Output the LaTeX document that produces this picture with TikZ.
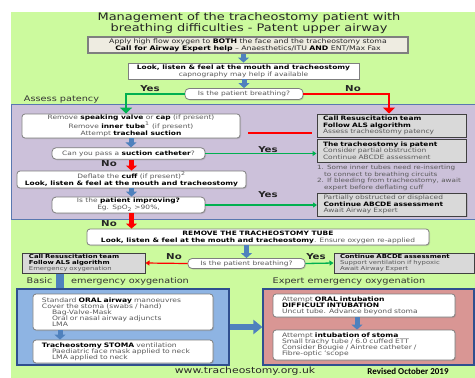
\documentclass[tikz,border=0pt]{standalone}
\usepackage{fontspec}
\setmainfont{DejaVu Sans}[FakeStretch=1.25]
\newfontfamily\revfont{Carlito}
\usetikzlibrary{shapes,arrows.meta,positioning,shadows}

\definecolor{bggreen}{HTML}{CCFA9E}
\definecolor{patencypurple}{HTML}{CCC1DA}
\definecolor{patencyedge}{HTML}{5A78B0}
\definecolor{boxgray}{HTML}{D9D9D9}
\definecolor{boxbeige}{HTML}{EEECE1}
\definecolor{edgegray}{HTML}{7F7F7F}
\definecolor{txtgray}{HTML}{595959}
\definecolor{arrowblue}{HTML}{4F81BD}
\definecolor{basicblue}{HTML}{8EB4E3}
\definecolor{expertred}{HTML}{D99694}
\definecolor{regionedge}{HTML}{2F4F8F}
\definecolor{okgreen}{HTML}{00B050}

\newcommand{\kw}[1]{{\bfseries\color{black}#1}}

\tikzset{
  whitebox/.style={draw=edgegray, fill=white, rounded corners=3bp, line width=0.8bp, align=center, text=txtgray, inner sep=1bp, font=\fontsize{6}{7}\selectfont, drop shadow={shadow xshift=1bp, shadow yshift=-1bp, opacity=0.3}},
  question/.style={whitebox, rounded corners=4bp},
  graybox/.style={draw=black!75, fill=boxgray, line width=1bp, align=left, text=txtgray, inner xsep=6bp, inner ysep=1bp, font=\fontsize{6}{6.7}\selectfont, drop shadow={shadow xshift=1bp, shadow yshift=-1bp, opacity=0.3}},
  listbox/.style={whitebox, align=left, inner xsep=9bp, font=\fontsize{6.1}{6}\selectfont},
  yesno/.style={text=black!85, font=\fontsize{8.2}{9}\selectfont\bfseries, inner sep=0pt},
  zonelabel/.style={text=black!80, font=\fontsize{7.8}{9}\selectfont, inner sep=0pt},
  bluearrow/.style={draw=arrowblue, line width=5bp, -{Triangle[length=5bp,width=11bp]}},
  redblock/.style={draw=red, line width=5bp, -{Triangle[length=5bp,width=11bp]}},
  bigturn/.style={line width=2bp, -{Triangle[length=6bp,width=12bp]}},
  greenline/.style={draw=okgreen, line width=1.3bp, -{Triangle[length=4bp,width=5bp]}},
}

\begin{document}
\begin{tikzpicture}[x=1bp,y=-1bp]
\useasboundingbox (0,0) rectangle (475,377);
% Backgrounds
\fill[bggreen] (11,12) rectangle (476,378);
\draw[fill=patencypurple, draw=patencyedge, line width=1bp] (11,104) rectangle (477,219);

% Title
\node[font=\fontsize{10.4}{11}\selectfont, text=black!85, align=center, inner sep=0pt] (title) at (249,23.5) {Management of the tracheostomy patient with\\breathing difficulties - Patent upper airway};

% Top boxes
\node[draw=edgegray, fill=boxbeige, line width=1.2bp, minimum width=320bp, minimum height=16bp, align=center, text=black!85, inner sep=1bp, font=\fontsize{6.25}{7.2}\selectfont, drop shadow={shadow xshift=1bp, shadow yshift=-1bp, opacity=0.3}] (oxygen) at (248,45) {Apply high flow oxygen to \kw{BOTH} the face and the tracheostomy stoma\\\kw{Call for Airway Expert help} -- Anaesthetics/ITU \kw{AND} ENT/Max Fax};
\node[whitebox, rounded corners=0pt, minimum width=231bp, minimum height=16bp] (look) at (243.5,71) {\kw{Look, listen \& feel at the mouth and tracheostomy}\\capnography may help if available};
\node[question, minimum width=118bp, minimum height=11bp] (breath1) at (244,94) {Is the patient breathing?};
\node[yesno] (yes1) at (150,89) {Yes};
\node[yesno] (no1) at (353,89) {No};
\node[zonelabel] (patency) at (61.5,99) {Assess patency};

% Assess patency
\node[whitebox, minimum width=218bp, minimum height=24bp] (remove) at (131,126) {Remove \kw{speaking valve} or \kw{cap} (if present)\\Remove \kw{inner tube}\textsuperscript{1} (if present)\\Attempt \kw{tracheal suction}};
\node[question, minimum width=153bp, minimum height=11.5bp] (suction) at (128.5,153.5) {Can you pass a \kw{suction catheter}?};
\node[whitebox, minimum width=229bp, minimum height=17bp] (cuff) at (131.5,179.5) {Deflate the \kw{cuff} (if present)\textsuperscript{2}\\\kw{Look, listen \& feel at the mouth and tracheostomy}};
\node[question, minimum width=153bp, minimum height=16bp] (improving) at (128.5,205) {Is the \kw{patient improving?}\\Eg. SpO\textsubscript{2} >90\%,};
\node[yesno] (no2) at (109,164) {No};
\node[yesno] (no3) at (109,224) {No};
\node[yesno] (yes2) at (268,150) {Yes};
\node[yesno] (yes3) at (268,195) {Yes};

\node[graybox, text width=137bp, minimum height=23bp] (resus1) at (391.5,125.5) {\kw{Call Resuscitation team}\\\kw{Follow ALS algorithm}\\Assess tracheostomy patency};
\node[graybox, text width=137bp, minimum height=23bp] (patent) at (391.5,150.5) {\kw{The tracheostomy is patent}\\Consider partial obstruction\\Continue ABCDE assessment};
\node[align=left, text=txtgray, font=\fontsize{5.8}{5.5}\selectfont, inner sep=0pt] (notes) at (389,178) {1. Some inner tubes need re-inserting\\\hspace*{7bp}to connect to breathing circuits\\2. If bleeding from tracheostomy, await\\\hspace*{7bp}expert before deflating cuff};
\node[graybox, text width=137bp, minimum height=23bp] (partial) at (392,204.5) {Partially obstructed or displaced\\\kw{Continue ABCDE assessment}\\Await Airway Expert};

% Remove the tube
\node[whitebox, minimum width=342bp, minimum height=16bp] (removetube) at (258,237) {\kw{REMOVE THE TRACHEOSTOMY TUBE}\\\kw{Look, listen \& feel at the mouth and tracheostomy}. Ensure oxygen re-applied};
\node[question, minimum width=117bp, minimum height=10bp] (breath2) at (246.5,263.5) {Is the patient breathing?};
\node[graybox, font=\fontsize{5.5}{6.3}\selectfont, text width=110bp, minimum height=20bp] (resus2) at (84,263) {\kw{Call Resuscitation team}\\\kw{Follow ALS algorithm}\\Emergency oxygenation};
\node[graybox, font=\fontsize{5.5}{6.3}\selectfont, text width=128bp, minimum height=20bp] (continue) at (404,263) {\kw{Continue ABCDE assessment}\\Support ventilation if hypoxic\\Await Airway Expert};
\node[yesno] (no4) at (174,257) {No};
\node[yesno] (yes4) at (316,257) {Yes};

% Emergency oxygenation
\node[zonelabel] (basic) at (39.5,281) {Basic};
\node[zonelabel] (emergency) at (130,281) {emergency oxygenation};
\node[zonelabel] (expert) at (349,281) {Expert emergency oxygenation};
\node[draw=regionedge, fill=basicblue, line width=1.2bp, minimum width=212bp, minimum height=76bp] (basicbox) at (123,327) {};
\node[draw=regionedge, fill=expertred, line width=1.2bp, minimum width=211bp, minimum height=76bp] (expertbox) at (368.5,327) {};
\node[listbox, text width=162bp, minimum height=36bp] (oral) at (123,312) {Standard \kw{ORAL airway} manoeuvres\\Cover the stoma (swabs / hand)\\\hspace*{10bp}Bag-Valve-Mask\\\hspace*{10bp}Oral or nasal airway adjuncts\\\hspace*{10bp}LMA};
\node[listbox, text width=162bp, minimum height=23bp] (stoma) at (123,351.5) {\kw{Tracheostomy STOMA} ventilation\\\hspace*{10bp}Paediatric face mask applied to neck\\\hspace*{10bp}LMA applied to neck};
\node[listbox, text width=164bp, minimum height=23bp] (intub) at (364,305.5) {Attempt \kw{ORAL intubation}\\\kw{DIFFICULT INTUBATION}\\Uncut tube. Advance beyond stoma};
\node[listbox, text width=164bp, minimum height=30bp] (stomaintub) at (364,345) {Attempt \kw{intubation of stoma}\\Small trachy tube / 6.0 cuffed ETT\\Consider Bougie / Aintree catheter /\\Fibre-optic 'scope};

% Footer
\node[text=black!85, font=\fontsize{8.7}{9}\selectfont] (website) at (245,371) {www.tracheostomy.org.uk};
\node[text=black, font=\revfont\bfseries\fontsize{9}{9}\selectfont] (revised) at (408,371) {Revised October 2019};

% Draw arrows
\draw[bluearrow] (oxygen.south -| look.north) -- (look.north);
\draw[bluearrow] (look.south -| breath1.north) -- (breath1.north);
\draw[bigturn, okgreen] (breath1.west) -| ([xshift=-5bp]remove.north);
\draw[bigturn, red] (breath1.east) -| ([xshift=-2.5bp]resus1.north);
\draw[red, line width=2bp, shorten <=5bp, shorten >=8bp] (resus1.west |- 0,133) -- (remove.east |- 0,133);
\draw[bluearrow] (remove.south) -- (remove.south |- suction.north);
\draw[redblock] (suction.south -| cuff.north) -- (cuff.north);
\draw[bluearrow] (cuff.south) -- (cuff.south |- improving.north);
\draw[redblock] (improving.south -| cuff.south) -- (removetube.north -| cuff.south);
\draw[greenline] (suction.east) -- (suction.east -| patent.west);
\draw[greenline] (improving.east) -- (improving.east -| partial.west);
\draw[bluearrow] (removetube.south -| breath2.north) -- (breath2.north);
\draw[red, line width=1.2bp, -{Triangle[length=4bp,width=5bp]}] (breath2.west) -- (resus2.east);
\draw[greenline] (breath2.east) -- (continue.west);
\draw[arrowblue, line width=8bp] (resus2.south -| 60,0) -- (basicbox.north -| 60,0);
\draw[bluearrow] (oral.south -| 60,0) -- (stoma.north -| 60,0);
\draw[bluearrow] (intub.south -| 357,0) -- (stomaintub.north -| 357,0);
\draw[bluearrow, line width=6bp, -{Triangle[length=9bp,width=14bp]}] (basicbox.east) -- (expertbox.west);
\end{tikzpicture}
\end{document}
